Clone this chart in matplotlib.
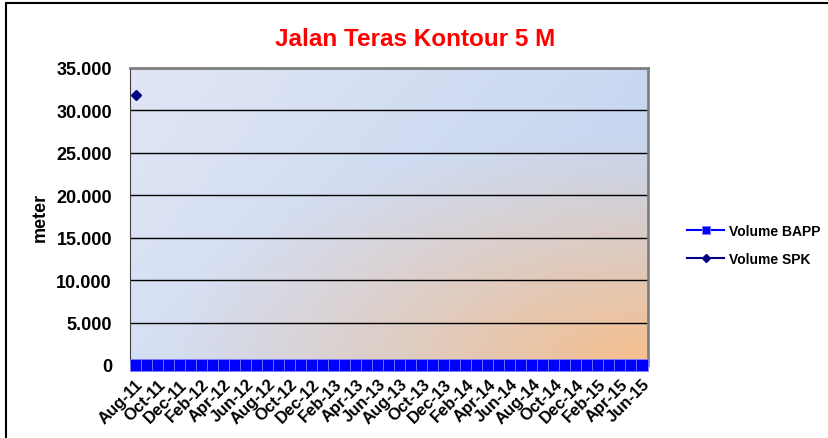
import numpy as np
import pandas as pd
import matplotlib
matplotlib.use("Agg")
import matplotlib.pyplot as plt
from matplotlib.patches import Rectangle
from matplotlib.ticker import FuncFormatter

# ===== data =====
months = pd.date_range("2011-08-01", "2015-06-01", freq="MS")
month_labels = [m.strftime("%b-%y") for m in months]
volume_bapp = [0] * len(months)
volume_spk = [31800] + [np.nan] * (len(months) - 1)

plt.rcParams["font.family"] = ["Liberation Sans", "DejaVu Sans"]

fig = plt.figure(figsize=(8.29, 4.39), dpi=100)
ax = fig.add_axes([130 / 829, 1 - 366 / 439, 518 / 829, 297 / 439])

# background gradient (blue -> orange in bottom right)
ny, nx = 200, 400
gx, gy = np.meshgrid(np.linspace(0, 1, nx), np.linspace(0, 1, ny))
light = np.array([0.88, 0.90, 0.96])
blue = np.array([0.76, 0.83, 0.94])
orange = np.array([0.97, 0.75, 0.55])
t_blue = np.clip((gx * 0.75 + gy * 0.35), 0, 1)
img = light[None, None, :] * (1 - t_blue[..., None]) + blue[None, None, :] * t_blue[..., None]
d = np.sqrt(((1 - gx) * 1.0) ** 2 + ((1 - gy) * 1.2) ** 2)
w = np.clip(1 - d / 0.95, 0, 1) ** 1.1
img = img * (1 - w[..., None]) + orange[None, None, :] * w[..., None]
ax.imshow(img, extent=[0, 1, 0, 1], transform=ax.transAxes, aspect="auto",
          origin="upper", zorder=0)

x = np.arange(len(months))
ax.plot(x, volume_bapp, color="#0000ff", marker="s", markersize=8,
        markeredgecolor="#7f7fff", markeredgewidth=0.6, lw=1.5,
        label="Volume BAPP", zorder=3, clip_on=False)
ax.plot(x, volume_spk, color="#000080", marker="D", markersize=5.5,
        lw=1.5, label="Volume SPK", zorder=4)

ax.set_xlim(-0.5, len(months) - 0.5)
ax.set_ylim(0, 35000)
ax.set_yticks(np.arange(0, 35001, 5000))
ax.yaxis.set_major_formatter(FuncFormatter(lambda v, p: f"{int(v):,}".replace(",", ".")))
ax.grid(axis="y", color="black", lw=1)
for gl in ax.get_ygridlines():
    gl.set_zorder(1)

ax.set_xticks(x[::2])
ax.set_xticklabels(month_labels[::2], rotation=45, ha="right",
                   rotation_mode="anchor", fontsize=12, fontweight="bold")
ax.tick_params(axis="x", length=0, pad=8)
ax.tick_params(axis="y", length=0, pad=13, labelsize=13)
for lbl in ax.get_yticklabels():
    lbl.set_fontweight("bold")

for side in ["top", "right"]:
    ax.spines[side].set_color("#808080")
    ax.spines[side].set_linewidth(2)
ax.spines["left"].set_color("#404040")
ax.spines["bottom"].set_visible(False)

ax.set_ylabel("meter", fontsize=13, fontweight="bold")
ax.yaxis.set_label_coords(-0.157, 0.5)

fig.text(415 / 829, 1 - 40 / 439, "Jalan Teras Kontour 5 M", color="#ff0000",
         fontsize=17.5, fontweight="bold", ha="center", va="center")

fig.legend(loc="center left", bbox_to_anchor=(675 / 829, 1 - 246 / 439),
           frameon=False, prop={"weight": "bold", "size": 10},
           handlelength=2.6, labelspacing=1.0, handletextpad=0.4,
           markerscale=0.8)

# chart outline (left and top edge visible)
fig.patches.append(Rectangle((6 / 829, -0.1), 1.2, 1 - 4 / 439 + 0.1,
                             transform=fig.transFigure, fill=False,
                             edgecolor="black", lw=1.5))

fig.savefig("out.png", dpi=100)
